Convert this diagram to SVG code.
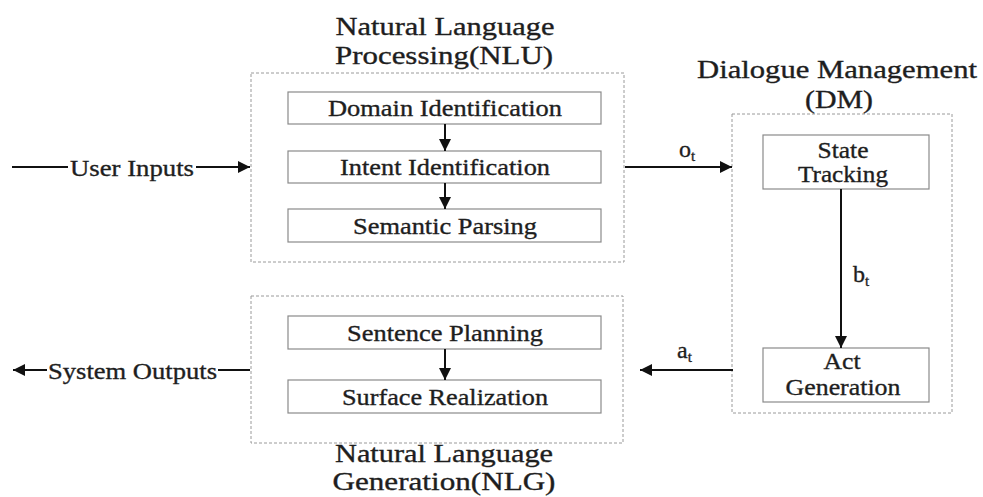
<svg xmlns="http://www.w3.org/2000/svg" width="983" height="497" viewBox="0 0 983 497">
<style>
text{font-family:"Liberation Serif","Times New Roman",serif;fill:#1e1e1e;stroke:#1e1e1e;stroke-width:0.35;}
.t{font-size:26px;text-anchor:middle;}
.l{font-size:24px;text-anchor:middle;}
.s{font-size:15px;}
.dash{fill:none;stroke:#9a9a9a;stroke-width:1;stroke-dasharray:3 2;}
.box{fill:#fff;stroke:#8a8a8a;stroke-width:1.2;}
.c{fill:none;stroke:#111;stroke-width:2;}
</style>
<defs>
<marker id="ah" viewBox="0 0 10 10" refX="10" refY="5" markerWidth="8" markerHeight="6" markerUnits="strokeWidth" orient="auto">
<path d="M0,0 L10,5 L0,10 z" fill="#111"/>
</marker>
</defs>
<rect width="983" height="497" fill="#fff"/>

<g id="nlu">
<rect class="dash" x="251" y="73" width="373" height="189"/>
<text class="t" x="445" y="35" textLength="219" lengthAdjust="spacingAndGlyphs">Natural Language</text>
<text class="t" x="444" y="64" textLength="218" lengthAdjust="spacingAndGlyphs">Processing(NLU)</text>
</g>
<g id="domain">
<rect class="box" x="288" y="92" width="313" height="32"/>
<text class="l" x="445" y="116" textLength="234" lengthAdjust="spacingAndGlyphs">Domain Identification</text>
</g>
<g id="intent">
<rect class="box" x="288" y="151" width="313" height="32"/>
<text class="l" x="445" y="175" textLength="210" lengthAdjust="spacingAndGlyphs">Intent Identification</text>
</g>
<g id="semantic">
<rect class="box" x="288" y="209" width="313" height="33"/>
<text class="l" x="445" y="234" textLength="184" lengthAdjust="spacingAndGlyphs">Semantic Parsing</text>
</g>

<g id="dm">
<rect class="dash" x="732" y="114" width="220" height="299"/>
<text class="t" x="837" y="78" textLength="280" lengthAdjust="spacingAndGlyphs">Dialogue Management</text>
<text class="t" x="839" y="108" textLength="68" lengthAdjust="spacingAndGlyphs">(DM)</text>
</g>
<g id="state">
<rect class="box" x="763" y="135" width="166" height="54"/>
<text class="l" x="843" y="158" textLength="51" lengthAdjust="spacingAndGlyphs">State</text>
<text class="l" x="843" y="182" textLength="90" lengthAdjust="spacingAndGlyphs">Tracking</text>
</g>
<g id="act">
<rect class="box" x="763" y="348" width="166" height="54"/>
<text class="l" x="842" y="369" textLength="37" lengthAdjust="spacingAndGlyphs">Act</text>
<text class="l" x="843" y="395" textLength="115" lengthAdjust="spacingAndGlyphs">Generation</text>
</g>

<g id="nlg">
<rect class="dash" x="251" y="296" width="372" height="147"/>
<text class="t" x="444" y="462" textLength="218" lengthAdjust="spacingAndGlyphs">Natural Language</text>
<text class="t" x="444" y="490" textLength="223" lengthAdjust="spacingAndGlyphs">Generation(NLG)</text>
</g>
<g id="sentence">
<rect class="box" x="288" y="316" width="313" height="33"/>
<text class="l" x="445" y="341" textLength="196" lengthAdjust="spacingAndGlyphs">Sentence Planning</text>
</g>
<g id="surface">
<rect class="box" x="288" y="380" width="313" height="33"/>
<text class="l" x="445" y="405" textLength="206" lengthAdjust="spacingAndGlyphs">Surface Realization</text>
</g>

<g id="connectors">
<line class="c" x1="445" y1="124" x2="445" y2="151" marker-end="url(#ah)"/>
<line class="c" x1="445" y1="183" x2="445" y2="209" marker-end="url(#ah)"/>
<line class="c" x1="445" y1="349" x2="445" y2="380" marker-end="url(#ah)"/>
<line class="c" x1="12" y1="167" x2="68" y2="167"/>
<line class="c" x1="196" y1="167" x2="250" y2="167" marker-end="url(#ah)"/>
<text x="70" y="176" style="font-size:24px" textLength="124" lengthAdjust="spacingAndGlyphs">User Inputs</text>
<line class="c" x1="250" y1="370" x2="218" y2="370"/>
<line class="c" x1="47" y1="370" x2="13" y2="370" marker-end="url(#ah)"/>
<text x="48" y="379" style="font-size:24px" textLength="169" lengthAdjust="spacingAndGlyphs">System Outputs</text>
<line class="c" x1="625" y1="167" x2="732" y2="167" marker-end="url(#ah)"/>
<text x="679" y="157" style="font-size:24px">o<tspan class="s" dy="4">t</tspan></text>
<line class="c" x1="841" y1="189" x2="841" y2="348" marker-end="url(#ah)"/>
<text x="853" y="282" style="font-size:24px">b<tspan class="s" dy="4">t</tspan></text>
<line class="c" x1="733" y1="370" x2="640" y2="370" marker-end="url(#ah)"/>
<text x="677" y="358" style="font-size:24px">a<tspan class="s" dy="4">t</tspan></text>
</g>
</svg>
